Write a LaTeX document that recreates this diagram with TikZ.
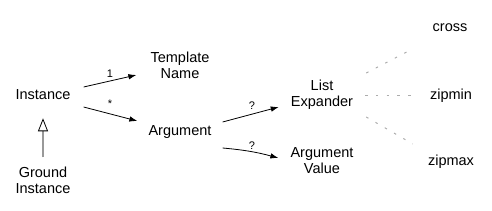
\documentclass[tikz,border=0pt]{standalone}
\usepackage{fontspec}
\setmainfont{Liberation Sans}
\usetikzlibrary{arrows.meta,calc}
\begin{document}
\begin{tikzpicture}[x=1pt,y=-1pt,
  lbl/.style={font=\fontsize{14.5}{16}\selectfont, align=center, inner sep=0pt},
  mult/.style={font=\fontsize{11}{12}\selectfont, inner sep=0pt, anchor=base},
  assoc/.style={draw=black, line width=0.8pt, -{Latex[length=8pt,width=5.5pt]}},
  inherit/.style={draw=gray!80, line width=2pt, -{Triangle[open,length=13pt,width=10pt,color=black,line width=0.8pt]}},
  variant/.style={draw=gray!65, line width=1pt, dash pattern=on 2.5pt off 8.2pt}]
\useasboundingbox (0,0) rectangle (492,211);
\node[lbl] (inst) at (43,95) {Instance};
\node[lbl] (gi) at (43,180) {Ground\\Instance};
\node[lbl] (tn) at (180,65) {Template\\Name};
\node[lbl] (arg) at (180,132) {Argument};
\node[lbl] (le) at (322,95) {List\\Expander};
\node[lbl] (av) at (322,161) {Argument\\Value};
\node[lbl] (cross) at (450,28) {cross};
\node[lbl] (zipmin) at (451,96) {zipmin};
\node[lbl] (zipmax) at (451,162) {zipmax};
\draw[inherit] ($(gi.north)+(0,-9)$) -- ($(inst.south)+(0,18)$);
\draw[assoc] ($(inst.east)+(13,-8)$) -- ($(tn.west)+(-14,10)$);
\draw[assoc] ($(inst.east)+(13,12)$) -- ($(arg.west)+(-11,-11)$);
\draw[assoc] ($(arg.east)+(11,-10)$) -- ($(le.west)+(-12,12)$);
\draw[assoc] ($(arg.east)+(11,16)$) to[bend left=5] ($(av.west)+(-12,-3)$);
\draw[variant] ($(le.east)+(13,-22)$) -- ($(cross.west)+(-20,21)$);
\draw[variant] ($(le.east)+(12,1)$) -- ($(zipmin.west)+(-18,0)$);
\draw[variant] ($(le.east)+(13,22)$) -- ($(zipmax.west)+(-15,-18)$);
\node[mult] (m1) at (110,78) {1};
\node[mult] (m2) at (110,108) {*};
\node[mult] (m3) at (252,110) {?};
\node[mult] (m4) at (252,149) {?};
\end{tikzpicture}
\end{document}
